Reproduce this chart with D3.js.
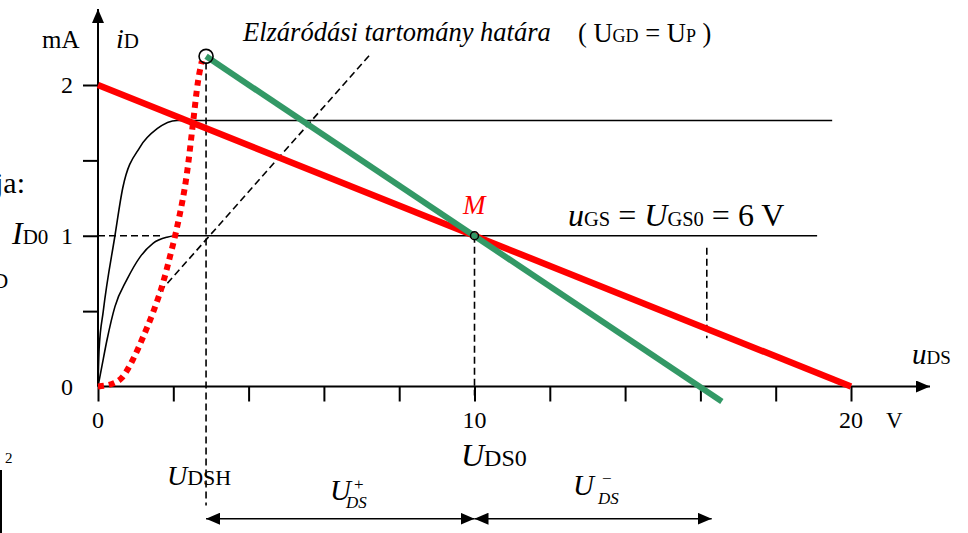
<!DOCTYPE html>
<html><head><meta charset="utf-8">
<script src="https://cdn.jsdelivr.net/npm/d3@7"></script>
<style>
body{margin:0;background:#fff}
svg{display:block}
</style>
</head><body>
<svg id="c" width="968" height="533" font-family="Liberation Serif"></svg>
<script>
// ---- data ----
const xTickValues = [0,2,4,6,8,10,12,14,16,18,20];
const xTickLabels = [{v:0,t:"0"},{v:10,t:"10"},{v:20,t:"20"}];
const yTickValues = [0.5,1,1.5,2];
const yTickLabels = [{v:0,t:"0"},{v:1,t:"1"},{v:2,t:"2"}];
const staticLoadLine = [[0,2],[20,0]];
const dynamicLoadLine = [[2.87,2.19],[16.57,-0.1]];
const upperCurve = [[0,0],[0.03,0.25],[0.14,0.5],[0.45,1.0],[0.66,1.32],[1.12,1.59],[1.57,1.71],[2.1,1.765],[19.5,1.765]];
const lowerCurve = [[0,0],[0.1,0.13],[0.24,0.31],[0.45,0.53],[0.77,0.71],[1.12,0.86],[1.46,0.95],[1.83,0.99],[2.05,1.0],[19.1,1.0]];
const saturationCurve = [[0,0],[0.4,0.02],[0.64,0.06],[0.93,0.18],[1.2,0.33],[1.46,0.49],[1.73,0.69],[1.91,0.86],[2.12,1.08],[2.36,1.41],[2.52,1.74],[2.66,2.03],[2.76,2.16]];
const pinchOffLine = [[1.65,0.63],[7.22,2.2]];
const operatingPoint = [10,1];
const dshPoint = [2.87,2.19];
const idoDash = [[0,1],[1.75,1]];
const vDashDSH = [[2.87,2.15],[2.87,-0.79]];
const vDashDS0 = [[10,1],[10,-0.06]];
const vDashRight = [[16.17,0.92],[16.17,0.32]];
const dimArrowPlus = [[2.87,-0.877],[10,-0.877]];
const dimArrowMinus = [[10,-0.877],[16.3,-0.877]];

// ---- scales ----
const svg = d3.select("#c");
const FF = "Liberation Serif";
const x = d3.scaleLinear().domain([0,20]).range([98,851]);
const y = d3.scaleLinear().domain([0,2]).range([386.5,85]);
const line = d3.line().x(d=>x(d[0])).y(d=>y(d[1]));
const curve = d3.line().x(d=>x(d[0])).y(d=>y(d[1])).curve(d3.curveMonotoneX);

// markers
const defs = svg.append("defs");
defs.append("marker").attr("id","arr").attr("viewBox","0 0 14 12").attr("refX",14).attr("refY",6)
  .attr("markerWidth",14).attr("markerHeight",12).attr("markerUnits","userSpaceOnUse").attr("orient","auto-start-reverse")
  .append("path").attr("d","M0,0L14,6L0,12Z").attr("fill","#000");

// axes
const gx = svg.append("g").attr("transform",`translate(0,${y(0)})`)
  .call(d3.axisBottom(x).tickValues(xTickValues).tickSize(15).tickSizeOuter(0).tickFormat(""));
gx.select(".domain").remove();
gx.selectAll(".tick text").remove();
gx.selectAll(".tick line").attr("stroke","#000").attr("stroke-width",2);
const gy = svg.append("g").attr("transform",`translate(${x(0)},0)`)
  .call(d3.axisLeft(y).tickValues(yTickValues).tickSize(15).tickSizeOuter(0).tickFormat(""));
gy.select(".domain").remove();
gy.selectAll(".tick text").remove();
gy.selectAll(".tick line").attr("stroke","#000").attr("stroke-width",2);

svg.append("line").attr("x1",x(0)).attr("x2",930).attr("y1",y(0)).attr("y2",y(0))
  .attr("stroke","#000").attr("stroke-width",2).attr("marker-end","url(#arr)");
svg.append("line").attr("x1",x(0)).attr("x2",x(0)).attr("y1",y(0)).attr("y2",9)
  .attr("stroke","#000").attr("stroke-width",2).attr("marker-end","url(#arr)");

// tick labels
svg.selectAll(".xl").data(xTickLabels).join("text").attr("font-family",FF).attr("x",d=>x(d.v)).attr("y",428)
  .attr("text-anchor","middle").attr("font-size",24).text(d=>d.t);
svg.append("text").attr("font-family",FF).attr("x",886).attr("y",428).attr("font-size",23).text("V");
svg.selectAll(".yl").data(yTickLabels).join("text").attr("font-family",FF).attr("x",73).attr("y",d=>y(d.v)+8)
  .attr("text-anchor","end").attr("font-size",24).text(d=>d.t);

// dashed helper lines
const dash = (pts)=>svg.append("path").attr("d",line(pts)).attr("fill","none")
  .attr("stroke","#000").attr("stroke-width",1.6).attr("stroke-dasharray","7,4");
dash(idoDash); dash(vDashDSH); dash(vDashDS0); dash(vDashRight); dash(pinchOffLine);

// characteristic curves
svg.append("path").attr("d",curve(upperCurve)).attr("fill","none").attr("stroke","#000").attr("stroke-width",1.6);
svg.append("path").attr("d",curve(lowerCurve)).attr("fill","none").attr("stroke","#000").attr("stroke-width",1.6);

// load lines
svg.append("path").attr("d",line(staticLoadLine)).attr("stroke","#ff0000").attr("stroke-width",6.5).attr("fill","none");
svg.append("path").attr("d",line(dynamicLoadLine)).attr("stroke","#339966").attr("stroke-width",6).attr("fill","none");

// saturation boundary (red dotted)
svg.append("path").attr("d",curve(saturationCurve)).attr("fill","none").attr("stroke","#ff0000")
  .attr("stroke-width",6).attr("stroke-dasharray","6,5");

// points
svg.append("circle").attr("cx",x(dshPoint[0])).attr("cy",y(dshPoint[1])).attr("r",7)
  .attr("fill","none").attr("stroke","#000").attr("stroke-width",1.6);
svg.append("circle").attr("cx",x(operatingPoint[0])).attr("cy",y(operatingPoint[1])).attr("r",4)
  .attr("fill","none").attr("stroke","#000").attr("stroke-width",1.5);

// dimension arrows
[dimArrowPlus, dimArrowMinus].forEach(p=>{
  svg.append("path").attr("d",line(p)).attr("stroke","#000").attr("stroke-width",1.6).attr("fill","none")
    .attr("marker-start","url(#arr)").attr("marker-end","url(#arr)");
});

// bracket fragment at left
svg.append("line").attr("x1",1).attr("x2",1).attr("y1",470).attr("y2",533).attr("stroke","#000").attr("stroke-width",2);

// ---- texts ----
function txt(xp, yp, size, s, italic, fill){
  const t = svg.append("text").attr("font-family",FF).attr("x",xp).attr("y",yp).attr("font-size",size).attr("fill",fill||"#000").text(s);
  if(italic) t.attr("font-style","italic");
  return t;
}
function rich(xp, yp, parts){
  const t = svg.append("text").attr("font-family",FF).attr("x",xp).attr("y",yp).attr("fill","#000");
  parts.forEach(p=>{
    const s = t.append("tspan").attr("font-size",p[1]).text(p[0]);
    if(p[2]) s.attr("font-style","italic");
  });
  return t;
}
txt(42,48,25,"mA");
rich(116,48,[["i",28,true],["D",21]]);
txt(243,41,26.5,"Elzáródási tartomány határa",true);
rich(578,42,[["( U",26.5],["GD",18],[" = U",26.5],["P",18],[" )",26.5]]);
rich(12,244,[["I",32,true],["D0",21]]);
txt(-5,193,30,"ja:");
txt(-7,288,21,"D");
txt(5,463,15,"2");
txt(463,214,27,"M",true,"#ff0000");
rich(568,226,[["u",32,true],["GS",20.5],[" = ",32],["U",32,true],["GS0",20.5],[" = 6 V",32]]);
rich(912,364,[["u",29,true],["DS",19]]);
rich(461,466,[["U",32,true],["DS0",24]]);
rich(167,485,[["U",28,true],["DSH",22]]);
txt(330,500,29,"U",true);
txt(354,490,17,"+");
txt(346,508,17,"DS",true);
txt(573,495,29,"U",true);
txt(602,484,17,"−");
txt(598,504,17,"DS",true);
</script>
</body></html>
